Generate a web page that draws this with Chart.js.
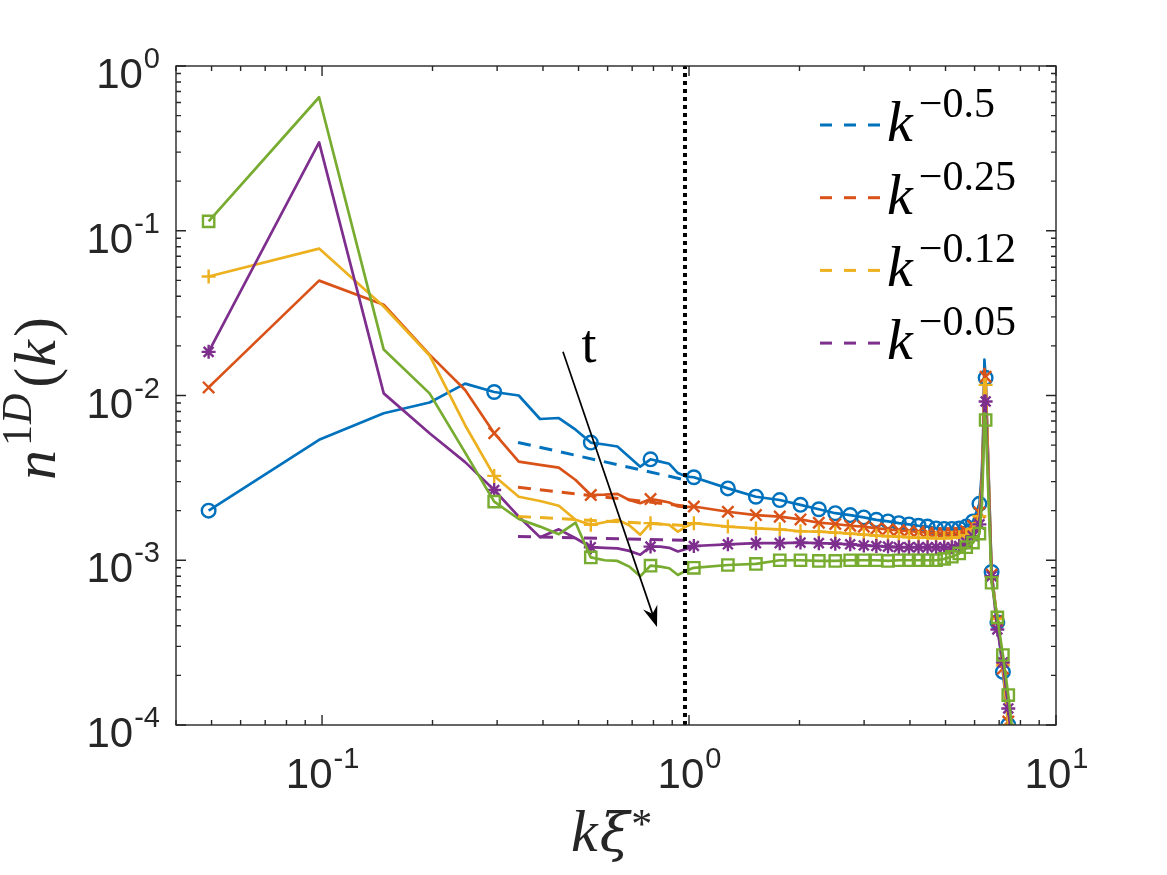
<!DOCTYPE html>
<html><head><meta charset="utf-8">
<script src="https://cdn.jsdelivr.net/npm/chart.js@4/dist/chart.umd.min.js"></script>
<style>html,body{margin:0;padding:0;background:#fff;}#wrap{width:1167px;height:875px;position:relative;}</style>
</head><body><div id="wrap"><canvas id="c" width="1167" height="875"></canvas></div>
<script>
// ---------- data ----------
const DK = 2 * Math.PI / 128;          // k spacing (k = n * DK)
const N_IDX = [1,2,3,4,5,6,7,8,9,10,11,12,13,14,15,16,17,18,19,20,21,
  26,31,36,41,46,51,56,61,66,71,76,81,86,91,96,101,106,111,116,121,126,
  128,129,130,131,136,141,146,151,156];
const Y_BLUE = [2.0e-3,5.38e-3,7.8e-3,9.07e-3,1.18e-2,1.05e-2,1.0e-2,7.2e-3,7.3e-3,6.2e-3,5.18e-3,5.04e-3,4.9e-3,4.24e-3,3.7e-3,4.1e-3,3.97e-3,3.85e-3,3.38e-3,3.22e-3,3.19e-3,
  2.73e-3,2.43e-3,2.32e-3,2.17e-3,2.04e-3,1.93e-3,1.88e-3,1.82e-3,1.76e-3,1.72e-3,1.68e-3,1.65e-3,1.62e-3,1.60e-3,1.56e-3,1.55e-3,1.55e-3,1.56e-3,1.60e-3,1.72e-3,2.2e-3,
  3.5e-3,6e-3,1.65e-2,1.28e-2,8.5e-4,4.2e-4,2.1e-4,1.0e-4,5e-5];
const Y_ORANGE = [1.12e-2,4.98e-2,3.56e-2,1.77e-2,1.08e-2,5.91e-3,3.97e-3,3.79e-3,3.65e-3,3.07e-3,2.49e-3,2.5e-3,2.53e-3,2.32e-3,2.22e-3,2.35e-3,2.3e-3,2.24e-3,2.12e-3,2.1e-3,2.12e-3,
  1.97e-3,1.88e-3,1.84e-3,1.77e-3,1.69e-3,1.66e-3,1.62e-3,1.60e-3,1.56e-3,1.54e-3,1.52e-3,1.50e-3,1.49e-3,1.47e-3,1.46e-3,1.46e-3,1.46e-3,1.47e-3,1.50e-3,1.62e-3,1.95e-3,
  3.2e-3,5.5e-3,1.45e-2,1.3e-2,8.2e-4,4.3e-4,2.2e-4,1.05e-4,5e-5];
const Y_YELLOW = [5.28e-2,7.79e-2,3.47e-2,1.75e-2,6.6e-3,3.25e-3,2.43e-3,2.29e-3,2.14e-3,1.76e-3,1.64e-3,1.7e-3,1.76e-3,1.63e-3,1.43e-3,1.68e-3,1.66e-3,1.64e-3,1.49e-3,1.6e-3,1.68e-3,
  1.60e-3,1.56e-3,1.54e-3,1.50e-3,1.49e-3,1.47e-3,1.45e-3,1.43e-3,1.41e-3,1.40e-3,1.39e-3,1.38e-3,1.37e-3,1.37e-3,1.36e-3,1.36e-3,1.37e-3,1.38e-3,1.42e-3,1.55e-3,1.85e-3,
  3.0e-3,5.0e-3,1.25e-2,1.16e-2,8.0e-4,4.4e-4,2.3e-4,1.0e-4,5e-5];
const Y_PURPLE = [1.84e-2,0.344,1.03e-2,5.9e-3,3.94e-3,2.67e-3,1.84e-3,1.38e-3,1.54e-3,1.36e-3,1.2e-3,1.19e-3,1.18e-3,1.14e-3,1.08e-3,1.21e-3,1.21e-3,1.19e-3,1.13e-3,1.17e-3,1.22e-3,
  1.25e-3,1.27e-3,1.27e-3,1.28e-3,1.27e-3,1.26e-3,1.25e-3,1.23e-3,1.22e-3,1.21e-3,1.2e-3,1.2e-3,1.2e-3,1.2e-3,1.2e-3,1.2e-3,1.2e-3,1.22e-3,1.28e-3,1.4e-3,1.65e-3,
  2.7e-3,4.5e-3,1.0e-2,9.2e-3,8.0e-4,3.8e-4,2.4e-4,1.26e-4,6e-5];
const Y_GREEN = [0.114,0.646,1.9e-2,1.03e-2,4.5e-3,2.27e-3,1.78e-3,1.6e-3,1.44e-3,1.69e-3,1.04e-3,1.0e-3,9.9e-4,9.15e-4,8.0e-4,9.27e-4,9.15e-4,8.94e-4,8.14e-4,8.65e-4,9.0e-4,
  9.36e-4,9.5e-4,1.0e-3,1.0e-3,9.9e-4,9.9e-4,1.0e-3,1.0e-3,1.0e-3,9.9e-4,1.0e-3,1.0e-3,1.0e-3,1.0e-3,1.0e-3,1.02e-3,1.05e-3,1.1e-3,1.2e-3,1.28e-3,1.45e-3,
  2.2e-3,3.8e-3,7.8e-3,7.1e-3,7.3e-4,4.5e-4,2.66e-4,1.52e-4,8e-5];

// power-law guide lines (end points)
const FIT_K = [0.342, 0.98];
const FIT_BLUE = [5.19e-3, 3.07e-3];
const FIT_ORANGE = [2.77e-3, 2.13e-3];
const FIT_YELLOW = [1.845e-3, 1.626e-3];
const FIT_PURPLE = [1.394e-3, 1.322e-3];
const FIT_LABELS = ['\u22120.5', '\u22120.25', '\u22120.12', '\u22120.05'];

const VLINE_K = 0.975;
const X_MIN = 0.04, X_MAX = 10, Y_MIN = 1e-4, Y_MAX = 1;
const X_TICK_EXP = [-1, 0, 1];
const Y_TICK_EXP = [0, -1, -2, -3, -4];
const ARROW_FROM = [0.4535, 0.01842];
const ARROW_TO = [0.818, 3.93e-4];
const T_POS = [0.534, 0.016];

// ---------- styles ----------
const C_BLUE = '#0072BD', C_ORANGE = '#D95319', C_YELLOW = '#EDB120', C_PURPLE = '#7E2F8E', C_GREEN = '#77AC30';
const TXT = '#262626';
const SANS = '"Liberation Sans", Arial, Helvetica, sans-serif';
const SERIF = '"Liberation Serif", "DejaVu Serif", serif';
const GREEK = '"DejaVu Serif", serif';

function series(vals, color, style, radius, order) {
  return {
    data: N_IDX.map((n, i) => ({ x: n * DK, y: vals[i], n: n })),
    borderColor: color, backgroundColor: color, borderWidth: 2.7,
    borderJoinStyle: 'round',
    pointStyle: style,
    pointRadius: ctx => (ctx.raw && (ctx.raw.n - 1) % 5 === 0) ? radius : 0,
    pointBorderColor: color, pointBackgroundColor: 'rgba(0,0,0,0)', pointBorderWidth: 2.4,
    pointHoverRadius: 0, tension: 0, order: order, fill: false
  };
}
function fit(vals, color) {
  return {
    data: FIT_K.map((k, i) => ({ x: k, y: vals[i] })),
    borderColor: color, borderWidth: 3, borderDash: [13, 9], pointRadius: 0,
    tension: 0, order: -1, fill: false
  };
}

const datasets = [
  series(Y_BLUE, C_BLUE, 'circle', 6.8, 4),
  series(Y_ORANGE, C_ORANGE, 'crossRot', 8, 3),
  series(Y_YELLOW, C_YELLOW, 'cross', 7, 2),
  series(Y_PURPLE, C_PURPLE, 'star', 7, 1),
  series(Y_GREEN, C_GREEN, 'rect', 8, 0),
  fit(FIT_BLUE, C_BLUE), fit(FIT_ORANGE, C_ORANGE), fit(FIT_YELLOW, C_YELLOW), fit(FIT_PURPLE, C_PURPLE),
  { data: [{ x: VLINE_K, y: Y_MIN }, { x: VLINE_K, y: Y_MAX }], borderColor: '#000', borderWidth: 4,
    borderDash: [4, 4], pointRadius: 0, order: -2, fill: false }
];

function powLabel(ctx, exp, x, y, mode) {
  const base = '10', ex = String(exp);
  ctx.font = '42px ' + SANS; const wb = ctx.measureText(base).width;
  ctx.font = '29px ' + SANS; const we = ctx.measureText(ex).width;
  let sx, by;
  if (mode === 'x') { sx = x - (wb + we) / 2; by = 788; }
  else { sx = 159 - (wb + we); by = y + 22; }
  ctx.fillStyle = TXT; ctx.textAlign = 'left'; ctx.textBaseline = 'alphabetic';
  ctx.font = '42px ' + SANS; ctx.fillText(base, sx, by);
  ctx.font = '29px ' + SANS; ctx.fillText(ex, sx + wb + 1, by - 20);
}

const decor = {
  id: 'decor',
  afterDraw(chart) {
    const { ctx, chartArea: a, scales: { x, y } } = chart;
    ctx.save();
    ctx.strokeStyle = TXT; ctx.lineWidth = 1.4;
    ctx.strokeRect(a.left, a.top, a.right - a.left, a.bottom - a.top);
    ctx.beginPath();
    for (let e = -2; e <= 1; e++) for (let d = 1; d <= 9; d++) {
      const v = d * Math.pow(10, e);
      if (v < X_MIN * 0.999 || v > X_MAX * 1.001) continue;
      const px = x.getPixelForValue(v), L = d === 1 ? 10 : 5;
      ctx.moveTo(px, a.bottom); ctx.lineTo(px, a.bottom - L);
      ctx.moveTo(px, a.top); ctx.lineTo(px, a.top + L);
    }
    for (let e = -4; e <= 0; e++) for (let d = 1; d <= 9; d++) {
      const v = d * Math.pow(10, e);
      if (v < Y_MIN * 0.999 || v > Y_MAX * 1.001) continue;
      const py = y.getPixelForValue(v), L = d === 1 ? 10 : 5;
      ctx.moveTo(a.left, py); ctx.lineTo(a.left + L, py);
      ctx.moveTo(a.right, py); ctx.lineTo(a.right - L, py);
    }
    ctx.stroke();
    X_TICK_EXP.forEach(e => powLabel(ctx, e, x.getPixelForValue(Math.pow(10, e)), 0, 'x'));
    Y_TICK_EXP.forEach(e => powLabel(ctx, e, 0, y.getPixelForValue(Math.pow(10, e)), 'y'));

    // x title  k xi *
    ctx.fillStyle = TXT; ctx.textAlign = 'left'; ctx.textBaseline = 'alphabetic';
    ctx.font = 'italic 60px ' + SERIF; ctx.fillText('k', 571, 851);
    let xx = 571 + ctx.measureText('k').width + 2;
    ctx.font = 'italic 54px ' + GREEK; ctx.fillText('\u03BE', xx, 851);
    xx += ctx.measureText('\u03BE').width + 2;
    ctx.font = '42px ' + SERIF; ctx.fillText('*', xx, 838);

    // y title  n^{1D}(k)
    ctx.save();
    ctx.translate(55, 480); ctx.rotate(-Math.PI / 2);
    let cx = 0;
    ctx.font = 'italic 60px ' + SERIF; ctx.fillText('n', cx, 0); cx += ctx.measureText('n').width + 4;
    ctx.font = '42px ' + SERIF; ctx.fillText('1', cx, -24); cx += ctx.measureText('1').width + 1;
    ctx.font = 'italic 42px ' + SERIF; ctx.fillText('D', cx, -24); cx += ctx.measureText('D').width + 6;
    ctx.font = '60px ' + SERIF; ctx.fillText('(', cx, 0); cx += ctx.measureText('(').width + 1;
    ctx.font = 'italic 60px ' + SERIF; ctx.fillText('k', cx, 0); cx += ctx.measureText('k').width + 3;
    ctx.font = '60px ' + SERIF; ctx.fillText(')', cx, 0);
    ctx.restore();

    // legend
    const LC = [C_BLUE, C_ORANGE, C_YELLOW, C_PURPLE];
    LC.forEach((c, i) => {
      const cy = 125 + i * 72.7;
      ctx.save();
      ctx.strokeStyle = c; ctx.lineWidth = 3; ctx.setLineDash([12, 12]);
      ctx.beginPath(); ctx.moveTo(820, cy); ctx.lineTo(880, cy); ctx.stroke();
      ctx.restore();
      ctx.fillStyle = '#000';
      ctx.font = 'italic 58px ' + SERIF; ctx.fillText('k', 887, cy + 16);
      const wk = ctx.measureText('k').width;
      ctx.font = '42px ' + SERIF; ctx.fillText(FIT_LABELS[i], 887 + wk + 6, cy - 8);
    });

    // arrow and t
    const x0 = x.getPixelForValue(ARROW_FROM[0]), y0 = y.getPixelForValue(ARROW_FROM[1]);
    const x1 = x.getPixelForValue(ARROW_TO[0]), y1 = y.getPixelForValue(ARROW_TO[1]);
    const ang = Math.atan2(y1 - y0, x1 - x0);
    const ux = Math.cos(ang), uy = Math.sin(ang), vx = -uy, vy = ux;
    ctx.strokeStyle = '#000'; ctx.lineWidth = 1.7;
    ctx.beginPath(); ctx.moveTo(x0, y0); ctx.lineTo(x1 - ux * 10, y1 - uy * 10); ctx.stroke();
    ctx.fillStyle = '#000';
    ctx.beginPath();
    ctx.moveTo(x1, y1);
    ctx.lineTo(x1 - ux * 21 + vx * 7.5, y1 - uy * 21 + vy * 7.5);
    ctx.lineTo(x1 - ux * 14, y1 - uy * 14);
    ctx.lineTo(x1 - ux * 21 - vx * 7.5, y1 - uy * 21 - vy * 7.5);
    ctx.closePath(); ctx.fill();
    ctx.font = '54px ' + SERIF; ctx.textAlign = 'center';
    ctx.fillText('t', x.getPixelForValue(T_POS[0]), y.getPixelForValue(T_POS[1]));
    ctx.restore();
  }
};

new Chart(document.getElementById('c'), {
  type: 'line',
  data: { datasets },
  options: {
    responsive: false, animation: false, devicePixelRatio: 1,
    layout: { padding: { left: 176, top: 66, right: 111, bottom: 150 } },
    plugins: { legend: { display: false }, tooltip: { enabled: false } },
    scales: {
      x: { type: 'logarithmic', min: X_MIN, max: X_MAX, display: false },
      y: { type: 'logarithmic', min: Y_MIN, max: Y_MAX, display: false }
    }
  },
  plugins: [decor]
});
</script></body></html>
